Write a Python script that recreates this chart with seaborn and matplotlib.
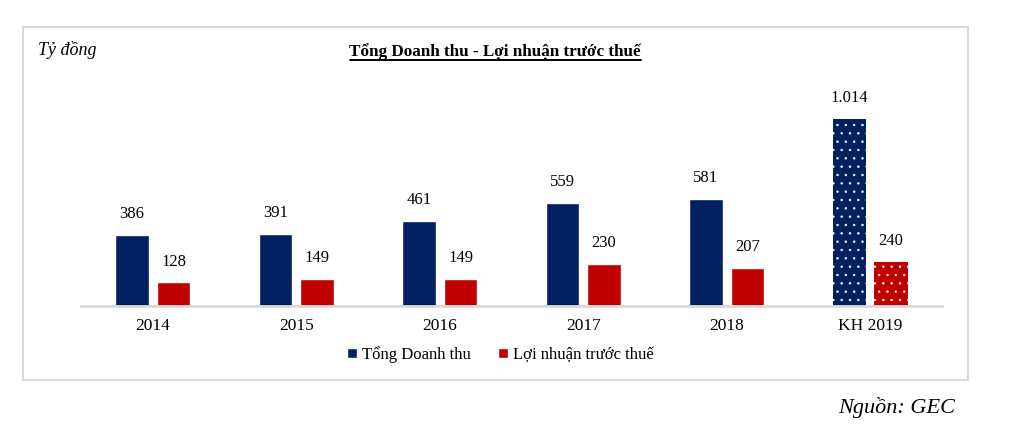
import pandas as pd
import matplotlib.pyplot as plt
import seaborn as sns
from matplotlib.patches import Rectangle

# Data
years = ["2014", "2015", "2016", "2017", "2018", "KH 2019"]
doanh_thu = [386, 391, 461, 559, 581, 1014]
loi_nhuan = [128, 149, 149, 230, 207, 240]
labels_dt = ["386", "391", "461", "559", "581", "1.014"]
labels_ln = ["128", "149", "149", "230", "207", "240"]
series = ["Tổng Doanh thu", "Lợi nhuận trước thuế"]

df = pd.DataFrame({
    "year": years * 2,
    "value": doanh_thu + loi_nhuan,
    "series": [series[0]] * len(years) + [series[1]] * len(years),
})

sns.set_theme(style="white")
plt.rcParams['font.family'] = ['Liberation Serif', 'DejaVu Serif']
plt.rcParams['text.color'] = 'black'
plt.rcParams['hatch.color'] = 'white'
plt.rcParams['hatch.linewidth'] = 0.5

W, H = 1009, 425
fig = plt.figure(figsize=(W / 100, H / 100), dpi=100)

# outer frame
fig.patches.append(Rectangle((23 / W, 1 - 380 / H), 945 / W, 353 / H,
                             transform=fig.transFigure, fill=False,
                             edgecolor='#d9d9d9', linewidth=1.5))

ax = fig.add_axes([81 / W, 1 - 306 / H, 861 / W, 226 / H])
palette = {series[0]: '#002060', series[1]: '#c00000'}
sns.barplot(data=df, x="year", y="value", hue="series", palette=palette,
            width=0.58, gap=0.2, saturation=1, ax=ax, legend=True)

ymax = 226 / 187 * 1014
ax.set_ylim(0, ymax)
ax.set_xlim(-0.5, 5.5)

# hatch the plan year bars and add value labels
for cont, labs in zip(ax.containers, [labels_dt, labels_ln]):
    for i, (bar, lab) in enumerate(zip(cont, labs)):
        if i == len(years) - 1:
            bar.set_hatch('..')
            bar.set_edgecolor('white')
            bar.set_linewidth(0)
        ax.annotate(lab, (bar.get_x() + bar.get_width() / 2, bar.get_height()),
                    xytext=(0, 9), textcoords='offset points',
                    ha='center', va='bottom', fontsize=12, color='black')

for s in ['top', 'right', 'left']:
    ax.spines[s].set_visible(False)
ax.spines['bottom'].set_color('#d9d9d9')
ax.spines['bottom'].set_linewidth(2)
ax.set_yticks([])
ax.set_xlabel("")
ax.set_ylabel("")
ax.tick_params(axis='x', length=0, labelsize=12.5, pad=9, colors='black')

ax.legend(loc='upper center', bbox_to_anchor=(0.487, -0.11), ncol=2,
          frameon=False, fontsize=12, handlelength=0.6, handleheight=0.6,
          handletextpad=0.3, columnspacing=1.6)

title = fig.text(495 / W, 1 - 52 / H, "Tổng Doanh thu - Lợi nhuận trước thuế",
                 ha='center', va='center', fontsize=12.3, fontweight='bold')
fig.add_artist(plt.Line2D([350 / W, 641 / W], [1 - 60 / H, 1 - 60 / H],
                          color='black', linewidth=1.4))
fig.text(38 / W, 1 - 50 / H, "Tỷ đồng", ha='left', va='center',
         fontsize=13, style='italic')
fig.text(955 / W, 1 - 408 / H, "Nguồn: GEC", ha='right', va='center',
         fontsize=16, style='italic')

fig.savefig("out.png", dpi=100)
